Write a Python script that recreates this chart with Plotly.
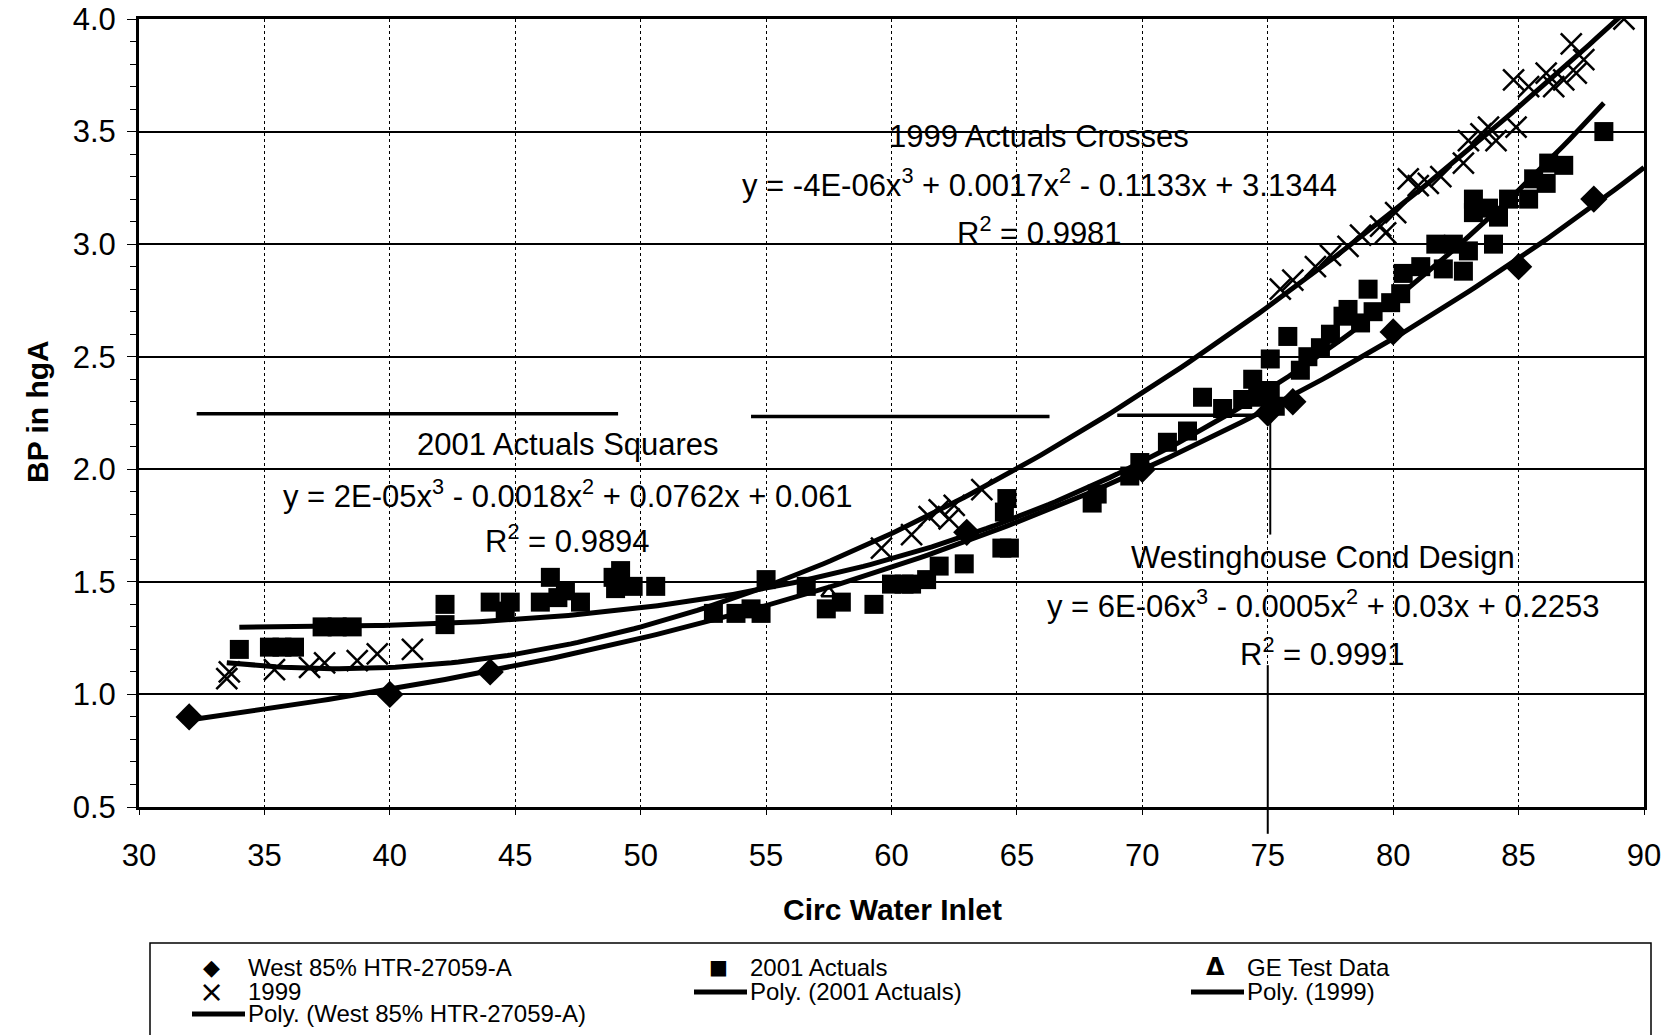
import numpy as np
import plotly.graph_objects as go

# ---------------- data ----------------
west_x = [32, 40, 44, 63, 70, 75, 76, 80, 85, 88]
west_y = [0.90, 1.00, 1.10, 1.72, 2.00, 2.25, 2.30, 2.61, 2.90, 3.20]

act2001_x = [34.0, 35.2, 35.7, 36.2, 37.3, 37.9, 38.5, 42.2, 42.2, 44.0, 44.6, 44.8, 46.0, 46.4,
             46.7, 47.0, 47.6, 48.9, 49.2, 49.0, 49.7, 50.6, 52.9, 53.8, 54.4, 54.8, 55.0, 56.6,
             57.4, 58.0, 59.3, 60.0, 60.5, 60.8, 61.4, 61.9, 62.9, 64.4, 64.7, 64.5, 64.6, 68.0,
             68.2, 69.5, 69.9, 71.0, 71.8, 72.4, 73.2, 74.0, 74.4, 74.6, 75.1, 75.1, 75.3, 75.8,
             76.3, 76.6, 77.1, 77.5, 78.0, 78.2, 78.7, 79.0, 79.2, 79.9, 80.3, 80.4, 81.1, 81.7,
             82.0, 82.4, 82.8, 83.0, 83.2, 83.2, 83.8, 84.0, 84.2, 84.6, 85.4, 85.6, 86.1, 86.2,
             86.8, 88.4]
act2001_y = [1.20, 1.21, 1.21, 1.21, 1.30, 1.30, 1.30, 1.31, 1.40, 1.41, 1.37, 1.41, 1.41, 1.52,
             1.43, 1.46, 1.41, 1.52, 1.55, 1.47, 1.48, 1.48, 1.36, 1.36, 1.38, 1.36, 1.51, 1.48,
             1.38, 1.41, 1.40, 1.49, 1.49, 1.49, 1.51, 1.57, 1.58, 1.65, 1.65, 1.81, 1.87, 1.85,
             1.89, 1.97, 2.03, 2.12, 2.17, 2.32, 2.27, 2.31, 2.40, 2.32, 2.35, 2.49, 2.28, 2.59,
             2.44, 2.50, 2.54, 2.60, 2.68, 2.71, 2.65, 2.80, 2.70, 2.74, 2.78, 2.87, 2.90, 3.00,
             2.89, 3.00, 2.88, 2.97, 3.14, 3.20, 3.16, 3.00, 3.12, 3.20, 3.20, 3.29, 3.27, 3.36,
             3.35, 3.50]

ge_x = [57.5]
ge_y = [1.45]

y1999_x = [33.5, 33.6, 35.4, 36.8, 37.4, 38.7, 39.5, 40.9, 59.6, 60.8, 61.5, 61.9, 62.3, 62.5,
           63.6, 75.5, 76.0, 76.9, 77.5, 78.2, 78.7, 79.5, 79.7, 80.1, 80.6, 81.0, 81.4, 81.9,
           82.8, 83.0, 83.5, 83.8, 84.1, 84.9, 84.8, 85.4, 86.1, 86.4, 86.8, 87.1, 87.3, 87.6,
           89.2]
y1999_y = [1.07, 1.10, 1.11, 1.12, 1.14, 1.15, 1.18, 1.20, 1.65, 1.71, 1.79, 1.82, 1.78, 1.84,
           1.91, 2.80, 2.84, 2.90, 2.95, 2.99, 3.04, 3.08, 3.05, 3.14, 3.29, 3.26, 3.27, 3.30,
           3.36, 3.46, 3.49, 3.52, 3.46, 3.52, 3.73, 3.70, 3.76, 3.70, 3.73, 3.89, 3.76, 3.82,
           4.00]

x_ticks = [30, 35, 40, 45, 50, 55, 60, 65, 70, 75, 80, 85, 90]
y_ticks = [0.5, 1.0, 1.5, 2.0, 2.5, 3.0, 3.5, 4.0]

legend_labels = ["West 85% HTR-27059-A", "2001 Actuals", "GE Test Data",
                 "1999", "Poly. (2001 Actuals)", "Poly. (1999)",
                 "Poly. (West 85% HTR-27059-A)"]

# design reference line (Westinghouse Cond Design)
design_x = 75
design_y = 2.25

FONT = "Arial, Liberation Sans, Helvetica, sans-serif"


def trend(xs, ys, x_end=None):
    c = np.polyfit(xs, ys, 3)
    lo = min(xs)
    hi = max(xs) if x_end is None else x_end
    xx = np.linspace(lo, hi, 200)
    return xx, np.polyval(c, xx)


fig = go.Figure()

fig.add_trace(go.Scatter(x=west_x, y=west_y, mode="markers", name=legend_labels[0],
                         marker=dict(symbol="diamond", size=21, color="black")))
fig.add_trace(go.Scatter(x=act2001_x, y=act2001_y, mode="markers", name=legend_labels[1],
                         marker=dict(symbol="square", size=19, color="black")))
fig.add_trace(go.Scatter(x=ge_x, y=ge_y, mode="markers", name=legend_labels[2],
                         marker=dict(symbol="triangle-up-open", size=13, color="black",
                                     line=dict(width=2.5, color="black"))))
fig.add_trace(go.Scatter(x=y1999_x, y=y1999_y, mode="markers", name=legend_labels[3],
                         marker=dict(symbol="x-thin-open", size=21, color="black",
                                     line=dict(width=2.5, color="black"))))

tx, ty = trend(act2001_x, act2001_y)
fig.add_trace(go.Scatter(x=tx, y=ty, mode="lines", name=legend_labels[4],
                         line=dict(color="black", width=5)))
tx, ty = trend(y1999_x, y1999_y)
fig.add_trace(go.Scatter(x=tx, y=ty, mode="lines", name=legend_labels[5],
                         line=dict(color="black", width=5)))
tx, ty = trend(west_x, west_y, x_end=90)
fig.add_trace(go.Scatter(x=tx, y=ty, mode="lines", name=legend_labels[6],
                         line=dict(color="black", width=5)))

# page body margin is removed (see post_script), so figure == window
W, H = 1676, 1035
PL, PT, PR, PB = 139, 19, 1644, 807          # plot area in page pixels
L, T, R, B = PL, PT, W - PR, H - PB
pw, ph = PR - PL, PB - PT


def px_x(p):
    return (p - PL) / pw


def px_y(p):
    return (PB - p) / ph


shapes = [
    dict(type="line", xref="x", yref="y", x0=32.3, x1=49.1, y0=2.247, y1=2.247,
         line=dict(color="black", width=3.5)),
    dict(type="line", xref="x", yref="y", x0=54.4, x1=66.3, y0=2.235, y1=2.235,
         line=dict(color="black", width=3.5)),
    dict(type="line", xref="x", yref="y", x0=69.0, x1=design_x, y0=2.24, y1=2.24,
         line=dict(color="black", width=3.5)),
    dict(type="line", xref="x", yref="y", x0=design_x + 0.1, x1=design_x + 0.1, y0=design_y, y1=1.71,
         line=dict(color="black", width=2)),
    dict(type="line", xref="x", yref="paper", x0=design_x, x1=design_x, y0=0.18, y1=-0.034,
         line=dict(color="black", width=2)),
    # legend frame
    dict(type="rect", xref="paper", yref="paper", x0=px_x(150), x1=px_x(1651),
         y0=px_y(1040), y1=px_y(943), line=dict(color="black", width=1.5)),
]

ann_font = dict(family=FONT, size=31, color="black")
annotations = [
    dict(x=65.9, y=3.48, text="1999 Actuals Crosses"),
    dict(x=65.9, y=3.27, text="y = -4E-06x<sup>3</sup> + 0.0017x<sup>2</sup> - 0.1133x + 3.1344"),
    dict(x=65.9, y=3.06, text="R<sup>2</sup> = 0.9981"),
    dict(x=47.1, y=2.11, text="2001 Actuals Squares"),
    dict(x=47.1, y=1.89, text="y = 2E-05x<sup>3</sup> - 0.0018x<sup>2</sup> + 0.0762x + 0.061"),
    dict(x=47.1, y=1.69, text="R<sup>2</sup> = 0.9894"),
    dict(x=77.2, y=1.61, text="Westinghouse Cond Design"),
    dict(x=77.2, y=1.40, text="y = 6E-06x<sup>3</sup> - 0.0005x<sup>2</sup> + 0.03x + 0.2253"),
    dict(x=77.2, y=1.19, text="R<sup>2</sup> = 0.9991"),
]
annotations = [dict(a, xref="x", yref="y", showarrow=False, font=ann_font,
                    xanchor="center", yanchor="middle") for a in annotations]
annotations.append(dict(text="<b>Circ Water Inlet</b>", xref="paper", yref="paper",
                        x=px_x(892), y=px_y(910), showarrow=False, xanchor="center", yanchor="middle",
                        font=dict(family=FONT, size=30, color="black")))
annotations.append(dict(text="<b>BP in hgA</b>", xref="paper", yref="paper",
                        x=px_x(37), y=px_y(412), showarrow=False, xanchor="center", yanchor="middle",
                        textangle=-90, font=dict(family=FONT, size=30, color="black")))

# ---- hand-built legend (3 columns, tight rows like the original) ----
leg_font = dict(family=FONT, size=24, color="black")
row_y = [967, 991, 1013]
col_sym = [211, 718, 1215]
col_txt = [246, 748, 1245]
sym_glyph = {0: "\u25C6", 1: "\u25A0", 2: "\u0394", 3: "\u00D7"}
sym_size = {0: 22, 1: 20, 2: 24, 3: 30}
entries = [(0, 0, 0), (1, 0, 1), (2, 0, 2), (3, 1, 0), (4, 1, 1), (5, 1, 2), (6, 2, 0)]
for idx, r, c in entries:
    annotations.append(dict(text=legend_labels[idx], xref="paper", yref="paper",
                            x=px_x(col_txt[c]), y=px_y(row_y[r]), xanchor="left", yanchor="middle",
                            showarrow=False, font=leg_font))
    if idx in sym_glyph:
        annotations.append(dict(text=("<b>%s</b>" % sym_glyph[idx]) if idx == 2 else sym_glyph[idx],
                                xref="paper", yref="paper",
                                x=px_x(col_sym[c]), y=px_y(row_y[r]), xanchor="center",
                                yanchor="middle", showarrow=False,
                                font=dict(family="DejaVu Sans", size=sym_size[idx], color="black")))
    else:
        shapes.append(dict(type="line", xref="paper", yref="paper",
                           x0=px_x(col_txt[c] - 54), x1=px_x(col_txt[c] - 1),
                           y0=px_y(row_y[r] + 1), y1=px_y(row_y[r] + 1),
                           line=dict(color="black", width=5)))

fig.update_layout(
    width=W, height=H,
    margin=dict(l=L, r=R, t=T, b=B, autoexpand=False),
    paper_bgcolor="white", plot_bgcolor="white",
    font=dict(family=FONT, color="black"),
    shapes=shapes,
    annotations=annotations,
    showlegend=False,
)

fig.update_xaxes(range=[30, 90], tickvals=x_ticks, ticktext=[str(v) for v in x_ticks],
                 tickfont=dict(family=FONT, size=31, color="black"),
                 showgrid=True, gridcolor="black", griddash="dot", gridwidth=1.2,
                 showline=True, linecolor="black", linewidth=3, mirror=True,
                 ticks="outside", ticklen=5, tickcolor="black", ticklabelstandoff=14,
                 ticklabeloverflow="allow",
                 zeroline=False, automargin=False)
fig.update_yaxes(range=[0.5, 4.0], tickvals=y_ticks, ticktext=[f"{v:.1f}" for v in y_ticks],
                 tickfont=dict(family=FONT, size=31, color="black"),
                 showgrid=True, gridcolor="black", gridwidth=1.5,
                 showline=True, linecolor="black", linewidth=3, mirror=True,
                 ticks="outside", ticklen=9, tickcolor="black", ticklabelstandoff=5,
                 ticklabeloverflow="allow",
                 minor=dict(dtick=0.1, ticks="outside", ticklen=6, tickcolor="black", showgrid=False),
                 zeroline=False, automargin=False)

fig.write_html("out.html", config={"displayModeBar": False},
               post_script="document.body.style.margin='0';document.body.style.overflow='hidden';")
